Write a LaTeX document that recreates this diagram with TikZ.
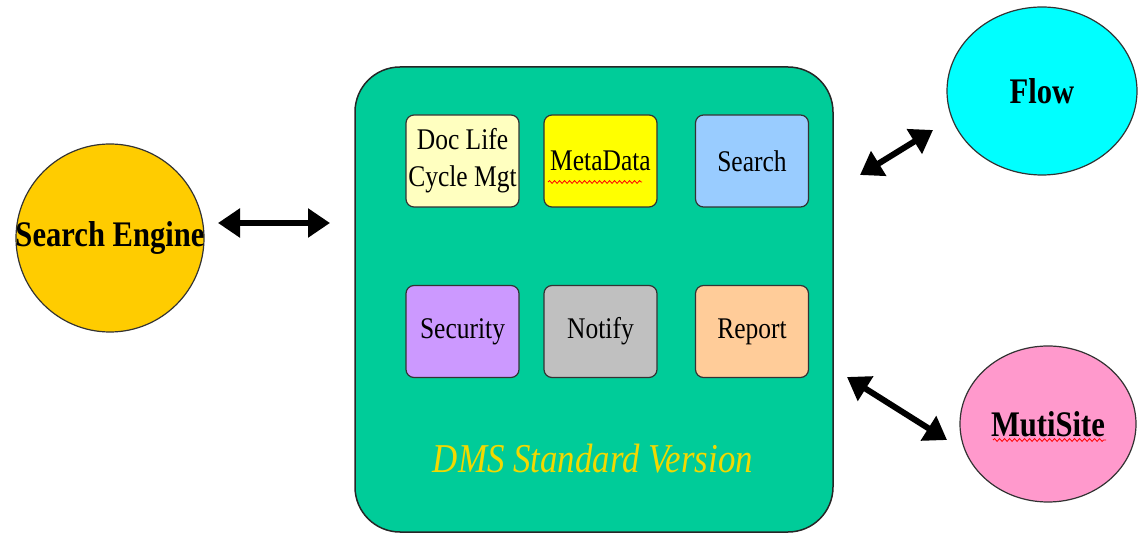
\documentclass[tikz,border=0pt]{standalone}
\usepackage{fontspec}
\setmainfont{Liberation Serif}
\newfontfamily\narrowserif[FakeStretch=0.85]{Liberation Serif}
\usetikzlibrary{positioning,arrows.meta,shapes.geometric,decorations.pathmorphing}
\definecolor{dmsgreen}{HTML}{00CC99}
\definecolor{docyellow}{HTML}{FFFFC0}
\definecolor{metayellow}{HTML}{FFFF00}
\definecolor{searchblue}{HTML}{99CCFF}
\definecolor{securitypurple}{HTML}{CC99FF}
\definecolor{notifygrey}{HTML}{C0C0C0}
\definecolor{reportorange}{HTML}{FFCC99}
\definecolor{enginegold}{HTML}{FFCC00}
\definecolor{flowcyan}{HTML}{00FFFF}
\definecolor{sitepink}{HTML}{FF99CC}
\definecolor{titleyellow}{HTML}{F2D900}

\begin{document}
\begin{tikzpicture}[x=1pt,y=-1pt,>={Triangle[length=22pt,width=28pt]}]
    \tikzstyle{outer}=[rectangle,rounded corners=45pt,draw=black!85,line width=1.5pt,fill=dmsgreen,minimum width=478pt,minimum height=465pt,inner sep=0pt]
    \tikzstyle{module}=[rectangle,rounded corners=8pt,draw=black!80,line width=1.2pt,minimum width=113pt,minimum height=92pt,inner sep=0pt,align=center,font=\narrowserif\fontsize{30}{37}\selectfont]
    \tikzstyle{ext}=[ellipse,draw=black!80,line width=1.2pt,inner sep=0pt]
    \tikzstyle{ext label}=[font=\narrowserif\bfseries\fontsize{36}{40}\selectfont]
    \tikzstyle{title}=[anchor=base,text=titleyellow,font=\narrowserif\itshape\fontsize{41}{45}\selectfont]
    \tikzstyle{edge}=[<->,line width=6pt]
    \tikzstyle{squiggle}=[red,line width=0.8pt,decorate,decoration={snake,amplitude=1.4pt,segment length=5pt}]

    \useasboundingbox (0,0) rectangle (1141,534);

    % standard version box
    \node[outer] (dms) at (594,299.5) {};
    \node[module,fill=docyellow] (doc) at (462.5,161) {Doc Life\\Cycle Mgt};
    \node[module,fill=metayellow] (meta) at (600.5,161) {MetaData};
    \node[module,fill=searchblue] (search) at (752,161) {Search};
    \node[module,fill=securitypurple] (security) at (462.5,331.5) {Security};
    \node[module,fill=notifygrey] (notify) at (600.5,331.5) {Notify};
    \node[module,fill=reportorange] (report) at (752,331.5) {Report};
    \node[title] (version) at (593,473) {DMS Standard Version};

    % outside parts
    \node[ext,fill=enginegold,minimum width=188pt,minimum height=188pt,label={[ext label]center:Search Engine}] (engine) at (110,238) {};
    \node[ext,fill=flowcyan,minimum width=190pt,minimum height=168pt,label={[ext label]center:Flow}] (flow) at (1042,91) {};
    \node[ext,fill=sitepink,minimum width=176pt,minimum height=156pt,label={[ext label]center:MutiSite}] (site) at (1048,424) {};

    \draw[squiggle] (548,182) -- (642,182);
    \draw[squiggle] (993,440) -- (1106,440);

    \coordinate (engineR) at (218,223);
    \coordinate (dmsL) at (330,223);
    \coordinate (dmsNE) at (860,175);
    \coordinate (flowSW) at (933,130);
    \coordinate (dmsSE) at (847,377);
    \coordinate (siteW) at (947,440);

    \draw[edge] (engineR) -- (dmsL);
    \draw[edge] (dmsNE) -- (flowSW);
    \draw[edge] (dmsSE) -- (siteW);
\end{tikzpicture}
\end{document}
